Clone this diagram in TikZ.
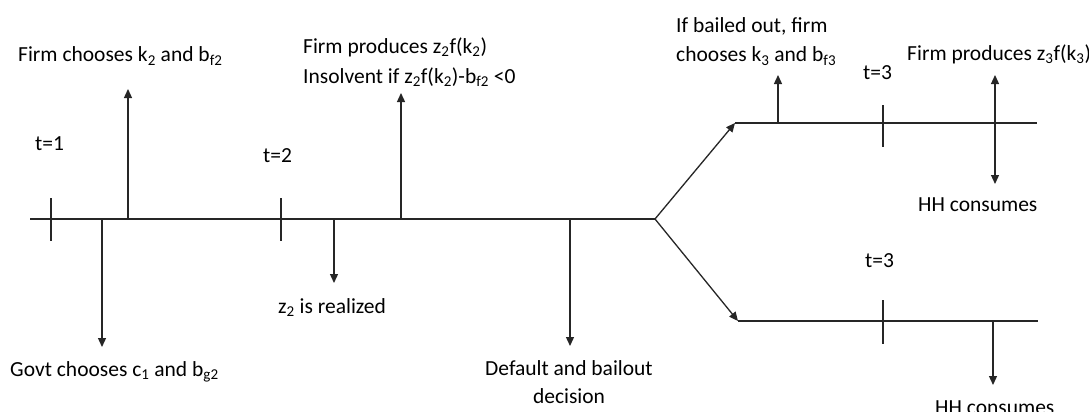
\documentclass[tikz,border=0pt]{standalone}
\usepackage{fontspec}
\setmainfont{Carlito}
\usetikzlibrary{arrows.meta}
\newcommand\sbx[1]{\textsubscript{#1}}
\begin{document}
\begin{tikzpicture}[x=1pt,y=-1pt,
  ln/.style={line width=1.3pt,draw=black!85},
  arr/.style={ln,-{Triangle[length=9pt,width=8pt]}},
  darr/.style={ln,{Triangle[length=9pt,width=8pt]}-{Triangle[length=9pt,width=8pt]}},
  lbl/.style={inner sep=0pt,font=\fontsize{21.5}{30}\selectfont,text=black},
  every node/.style={lbl}]
\useasboundingbox (0,0) rectangle (1089,412);
% main line
\coordinate (s) at (30,219);
\coordinate (br) at (655,219);
\draw[ln] (s) -- (br);
% ticks
\coordinate (t1a) at (51,198); \coordinate (t1b) at (51,241);
\coordinate (t2a) at (281,198); \coordinate (t2b) at (281,241);
\draw[ln] (t1a) -- (t1b);
\draw[ln] (t2a) -- (t2b);
\node[anchor=base west] (lt1) at (35,150) {t=1};
\node[anchor=base west] (lt2) at (263,162) {t=2};
% firm chooses
\coordinate (fc0) at (128,219); \coordinate (fc1) at (128,89);
\draw[arr] (fc0) -- (fc1);
\node[anchor=base west] (lfc) at (18,62) {Firm chooses k\sbx{2} and b\sbx{f2}};
% govt
\coordinate (g0) at (102,219); \coordinate (g1) at (102,347);
\draw[arr] (g0) -- (g1);
\node[anchor=base west] (lg) at (10,376) {Govt chooses c\sbx{1} and b\sbx{g2}};
% z2 realized
\coordinate (z0) at (334,219); \coordinate (z1) at (334,283);
\draw[arr] (z0) -- (z1);
\node[anchor=base west] (lz) at (278,313) {z\sbx{2} is realized};
% firm produces
\coordinate (fp0) at (401,219); \coordinate (fp1) at (401,93);
\draw[arr] (fp0) -- (fp1);
\node[anchor=base west,align=left] (lfp) at (303,83) {Firm produces z\sbx{2}f(k\sbx{2})\\Insolvent if z\sbx{2}f(k\sbx{2})-b\sbx{f2} <0};
% default
\coordinate (d0) at (570,219); \coordinate (d1) at (570,346);
\draw[arr] (d0) -- (d1);
\node[anchor=base,align=center,font=\fontsize{21.5}{28}\selectfont] (ld) at (569,403) {Default and bailout\\decision};
% upper branch
\coordinate (u0) at (735,123); \coordinate (ue) at (1037,123);
\draw[arr] (br) -- (u0);
\draw[ln] (u0) -- (ue);
\coordinate (b0) at (778,123); \coordinate (b1) at (778,75);
\draw[arr] (b0) -- (b1);
\node[anchor=base west,align=left,font=\fontsize{21.5}{29}\selectfont] (lb) at (676,62) {If bailed out, firm\\chooses k\sbx{3} and b\sbx{f3}};
\coordinate (t3a) at (883,105); \coordinate (t3b) at (883,147);
\draw[ln] (t3a) -- (t3b);
\node[anchor=base west] (lt3) at (863,80) {t=3};
\coordinate (h0) at (995,75); \coordinate (h1) at (995,184);
\draw[darr] (h0) -- (h1);
\node[anchor=base west] (lfp3) at (907,60) {Firm produces z\sbx{3}f(k\sbx{3})};
\node[anchor=base west] (lhh) at (918,211) {HH consumes};
% lower branch
\coordinate (w0) at (738,321); \coordinate (we) at (1038,321);
\draw[arr] (br) -- (w0);
\draw[ln] (w0) -- (we);
\coordinate (t4a) at (883,300); \coordinate (t4b) at (883,344);
\draw[ln] (t4a) -- (t4b);
\node[anchor=base west] (lt4) at (865,267) {t=3};
\coordinate (hh0) at (993,321); \coordinate (hh1) at (993,385);
\draw[arr] (hh0) -- (hh1);
\node[anchor=base west] (lhh2) at (935,414) {HH consumes};
\end{tikzpicture}
\end{document}
